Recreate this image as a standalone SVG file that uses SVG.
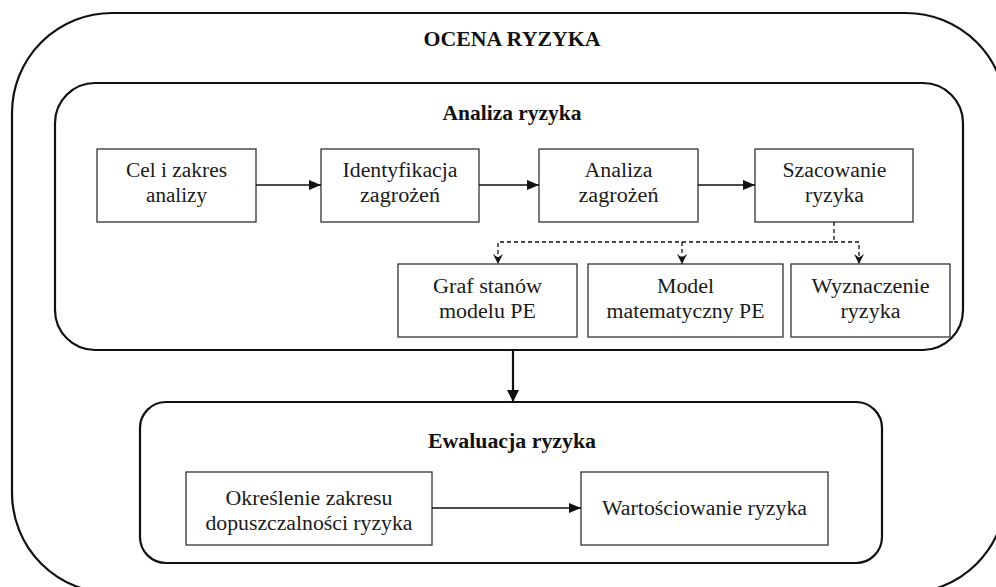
<svg xmlns="http://www.w3.org/2000/svg" width="996" height="587" viewBox="0 0 996 587">
<style>
.bg{fill:#fff}
.cont{fill:none;stroke:#111;stroke-width:2.2}
.box{fill:#fff;stroke:#333;stroke-width:1.3}
.t{font-size:20px;fill:#1a1a1a;text-anchor:middle}
.b{font-size:20px;font-weight:bold;fill:#111;text-anchor:middle}
.ln{fill:none;stroke:#111;stroke-width:1.3}
.ln2{fill:none;stroke:#111;stroke-width:2.2}
.dash{fill:none;stroke:#111;stroke-width:1.3;stroke-dasharray:4 3}
</style>
<defs>
<marker id="ah" viewBox="0 0 12 10" refX="12" refY="5" markerWidth="12" markerHeight="10" markerUnits="userSpaceOnUse" orient="auto">
<path d="M0,0 L12,5 L0,10 z" fill="#111"/>
</marker>
<marker id="ahBig" viewBox="0 0 12 12" refX="12" refY="6" markerWidth="12" markerHeight="12" markerUnits="userSpaceOnUse" orient="auto">
<path d="M0,0 L12,6 L0,12 z" fill="#111"/>
</marker>
<marker id="ahV" viewBox="0 0 10 10" refX="10" refY="5" markerWidth="10" markerHeight="10" markerUnits="userSpaceOnUse" orient="auto">
<path d="M0,0 L10,5 L0,10 L3.5,5 z" fill="#111"/>
</marker>
</defs>
<rect class="bg" x="0" y="0" width="996" height="587"/>

<g font-family="Liberation Serif, Times New Roman, serif">
<g id="ocena-ryzyka">
<rect class="cont" x="12" y="13" width="994" height="580" rx="100" ry="100"/>
<text class="b" x="512" y="46" textLength="177" lengthAdjust="spacingAndGlyphs">OCENA RYZYKA</text>
</g>

<g id="analiza-ryzyka">
<rect class="cont" x="55" y="83" width="908" height="267" rx="40" ry="40"/>
<text class="b" x="512" y="120" textLength="139" lengthAdjust="spacingAndGlyphs">Analiza ryzyka</text>
</g>

<g id="ewaluacja-ryzyka">
<rect class="cont" x="140" y="402" width="742" height="161" rx="26" ry="26"/>
<text class="b" x="512" y="448" textLength="168" lengthAdjust="spacingAndGlyphs">Ewaluacja ryzyka</text>
</g>

<g id="cel">
<rect class="box" x="97" y="149" width="159" height="73"/>
<text class="t" x="176.5" y="177" textLength="101" lengthAdjust="spacingAndGlyphs">Cel i zakres</text>
<text class="t" x="176.5" y="202" textLength="61" lengthAdjust="spacingAndGlyphs">analizy</text>
</g>

<g id="identyfikacja">
<rect class="box" x="321" y="149" width="158" height="73"/>
<text class="t" x="400" y="177" textLength="115" lengthAdjust="spacingAndGlyphs">Identyfikacja</text>
<text class="t" x="400" y="202" textLength="80" lengthAdjust="spacingAndGlyphs">zagrożeń</text>
</g>

<g id="analiza-zagrozen">
<rect class="box" x="539" y="149" width="159" height="73"/>
<text class="t" x="618.5" y="177" textLength="68" lengthAdjust="spacingAndGlyphs">Analiza</text>
<text class="t" x="618.5" y="202" textLength="80" lengthAdjust="spacingAndGlyphs">zagrożeń</text>
</g>

<g id="szacowanie">
<rect class="box" x="755" y="149" width="158" height="73"/>
<text class="t" x="834.5" y="177" textLength="104" lengthAdjust="spacingAndGlyphs">Szacowanie</text>
<text class="t" x="834.5" y="202" textLength="59" lengthAdjust="spacingAndGlyphs">ryzyka</text>
</g>

<g id="graf">
<rect class="box" x="398" y="264" width="179" height="73"/>
<text class="t" x="487.5" y="293" textLength="109" lengthAdjust="spacingAndGlyphs">Graf stanów</text>
<text class="t" x="487.5" y="318" textLength="97" lengthAdjust="spacingAndGlyphs">modelu PE</text>
</g>

<g id="model">
<rect class="box" x="588" y="264" width="195" height="73"/>
<text class="t" x="685.5" y="293" textLength="57" lengthAdjust="spacingAndGlyphs">Model</text>
<text class="t" x="685.5" y="318" textLength="158" lengthAdjust="spacingAndGlyphs">matematyczny PE</text>
</g>

<g id="wyznaczenie">
<rect class="box" x="791" y="264" width="159" height="73"/>
<text class="t" x="870.5" y="293" textLength="118" lengthAdjust="spacingAndGlyphs">Wyznaczenie</text>
<text class="t" x="870.5" y="318" textLength="60" lengthAdjust="spacingAndGlyphs">ryzyka</text>
</g>

<g id="okreslenie">
<rect class="box" x="186" y="472" width="246" height="73"/>
<text class="t" x="309" y="505" textLength="167" lengthAdjust="spacingAndGlyphs">Określenie zakresu</text>
<text class="t" x="309" y="530" textLength="207" lengthAdjust="spacingAndGlyphs">dopuszczalności ryzyka</text>
</g>

<g id="wartosciowanie">
<rect class="box" x="581" y="472" width="247" height="73"/>
<text class="t" x="704.5" y="515" textLength="205" lengthAdjust="spacingAndGlyphs">Wartościowanie ryzyka</text>
</g>
</g>

<g id="connectors">
<path class="ln" d="M256,185 H321" marker-end="url(#ah)"/>
<path class="ln" d="M479,185 H539" marker-end="url(#ah)"/>
<path class="ln" d="M698,185 H755" marker-end="url(#ah)"/>
<path class="dash" d="M834,222 V242 H498 V264" marker-end="url(#ahV)"/>
<path class="dash" d="M682,242 V264" marker-end="url(#ahV)"/>
<path class="dash" d="M834,242 H859 V264" marker-end="url(#ahV)"/>
<path class="ln2" d="M513,350 V402" marker-end="url(#ahBig)"/>
<path class="ln" d="M432,508 H581" marker-end="url(#ah)"/>
</g>
</svg>
